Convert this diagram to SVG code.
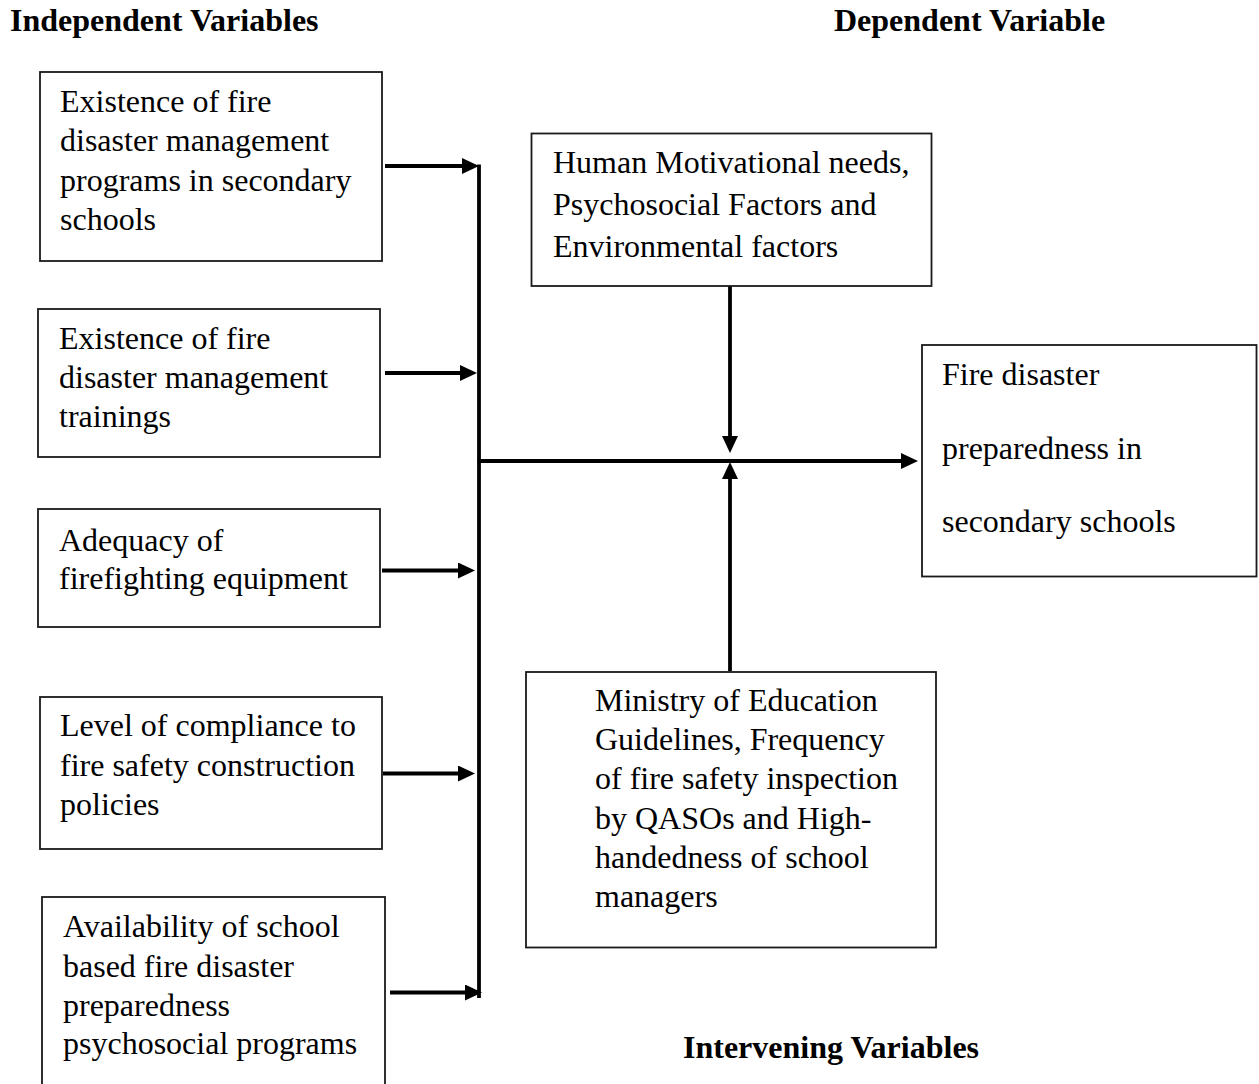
<svg xmlns="http://www.w3.org/2000/svg" width="1259" height="1084" viewBox="0 0 1259 1084">
<style>
text{font-family:"Liberation Serif","Times New Roman",serif;font-size:32px;fill:#000}
.h{font-weight:bold}
.box{fill:#fff;stroke:#1a1a1a;stroke-width:1.8}
.c{stroke:#000;stroke-width:3.8;fill:none}
.a{marker-end:url(#ah)}
</style>
<defs>
<marker id="ah" markerUnits="userSpaceOnUse" markerWidth="18" markerHeight="17" refX="2" refY="8" orient="auto" viewBox="0 0 18 17">
<path d="M0,0 L17,8 L0,16 z" fill="#000"/>
</marker>
</defs>
<rect width="1259" height="1084" fill="#fff"/>
<g id="headers">
<text class="h" x="10" y="31">Independent Variables</text>
<text class="h" x="834" y="31">Dependent Variable</text>
<text class="h" x="683" y="1058">Intervening Variables</text>
</g>
<g id="connectors">
<line class="c a" x1="385" y1="166" x2="464" y2="166"/>
<line class="c a" x1="385" y1="373" x2="462" y2="373"/>
<line class="c a" x1="382" y1="570.5" x2="460" y2="570.5"/>
<line class="c a" x1="383" y1="773.5" x2="460" y2="773.5"/>
<line class="c a" x1="390" y1="992.5" x2="467" y2="992.5"/>
<line class="c" x1="479" y1="164.5" x2="479" y2="998"/>
<line class="c a" x1="477.5" y1="461" x2="903" y2="461"/>
<line class="c a" x1="730" y1="286" x2="730" y2="438"/>
<line class="c a" x1="730" y1="671" x2="730" y2="477"/>
</g>
<g id="node-programs">
<rect class="box" x="40" y="72" width="342" height="189"/>
<text x="60" y="112">Existence of fire</text>
<text x="60" y="151">disaster management</text>
<text x="60" y="190.5">programs in secondary</text>
<text x="60" y="230">schools</text>
</g>
<g id="node-trainings">
<rect class="box" x="38" y="309" width="342" height="148"/>
<text x="59" y="348.5">Existence of fire</text>
<text x="59" y="388">disaster management</text>
<text x="59" y="427">trainings</text>
</g>
<g id="node-equipment">
<rect class="box" x="38" y="509" width="342" height="118"/>
<text x="59" y="550.5">Adequacy of</text>
<text x="59" y="589">firefighting equipment</text>
</g>
<g id="node-compliance">
<rect class="box" x="40" y="697" width="342" height="152"/>
<text x="60" y="736">Level of compliance to</text>
<text x="60" y="776">fire safety construction</text>
<text x="60" y="815">policies</text>
</g>
<g id="node-psychosocial">
<rect class="box" x="42" y="897" width="343" height="200"/>
<text x="63" y="936.5">Availability of school</text>
<text x="63" y="977">based fire disaster</text>
<text x="63" y="1015.5">preparedness</text>
<text x="63" y="1054">psychosocial programs</text>
</g>
<g id="node-human">
<rect class="box" x="531.5" y="133.5" width="400" height="152.5"/>
<text x="553" y="173">Human Motivational needs,</text>
<text x="553" y="215">Psychosocial Factors and</text>
<text x="553" y="257">Environmental factors</text>
</g>
<g id="node-preparedness">
<rect class="box" x="922" y="345" width="334.5" height="231.5"/>
<text x="942" y="385">Fire disaster</text>
<text x="942" y="458.5">preparedness in</text>
<text x="942" y="532">secondary schools</text>
</g>
<g id="node-ministry">
<rect class="box" x="526" y="672" width="410" height="275.5"/>
<text x="595" y="711">Ministry of Education</text>
<text x="595" y="750">Guidelines, Frequency</text>
<text x="595" y="789">of fire safety inspection</text>
<text x="595" y="828.5">by QASOs and High-</text>
<text x="595" y="868">handedness of school</text>
<text x="595" y="907">managers</text>
</g>
</svg>
